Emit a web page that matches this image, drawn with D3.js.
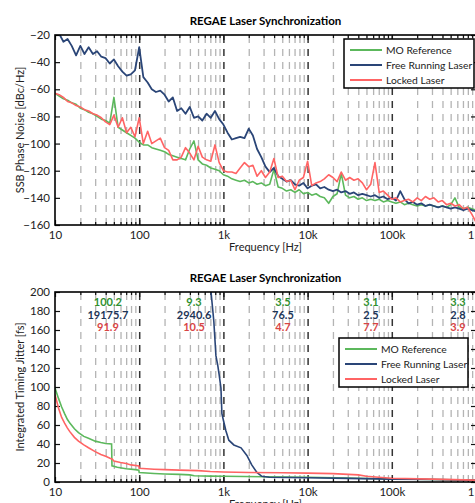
<!DOCTYPE html>
<html>
<head>
<meta charset="utf-8">
<script src="https://cdn.jsdelivr.net/npm/d3@7"></script>
<style>
  body { margin: 0; background: #fff; }
  svg text { font-family: Lato, "Open Sans", sans-serif; fill: #222; }
</style>
</head>
<body>
<div id="chart"></div>
<script>
// frequency grid of the phase noise traces [Hz]
const freqs = [
  10, 11.2, 12.6, 14.1, 15.8, 17.8, 20, 22.4, 25.1, 28.2, 31.6, 35.5, 39.8, 44.7, 50.1, 56.2, 63.1, 70.8, 79.4, 89.1,
  100, 112, 126, 141, 158, 178, 200, 224, 251, 282, 316, 355, 398, 447, 501, 562, 631, 708, 794, 891,
  1000, 1120, 1260, 1410, 1580, 1780, 2000, 2240, 2510, 2820, 3160, 3550, 3980, 4470, 5010, 5620, 6310, 7080, 7940, 8910,
  10000, 11200, 12600, 14100, 15800, 17800, 20000, 22400, 25100, 28200, 31600, 35500, 39800, 44700, 50100, 56200, 63100, 70800, 79400, 89100,
  100000, 112000, 126000, 141000, 158000, 178000, 200000, 224000, 251000, 282000, 316000, 355000, 398000, 447000, 501000, 562000, 631000, 708000, 794000, 891000,
  1000000
];

// SSB phase noise [dBc/Hz]
const moNoise = [
  -63, -65, -67, -68, -70, -71, -74, -75, -77, -78, -80, -82, -83, -85, -66, -88, -90, -92, -94, -96,
  -99, -101, -101, -103, -104, -105, -106, -108, -109, -110, -111, -112, -104, -98, -112, -115, -116, -118, -119, -120,
  -123, -124, -126, -127, -128, -127, -129, -128, -130, -129, -131, -130, -119, -132, -133, -135, -134, -136, -134, -137,
  -136, -138, -137, -139, -140, -144, -139, -137, -122, -138, -140, -139, -141, -140, -142, -141, -142, -141, -143, -142,
  -143, -144, -143, -145, -144, -145, -146, -145, -146, -145, -146, -147, -146, -147, -145, -140, -147, -148, -147, -148,
  -149
];
const freeNoise = [
  -15, -19, -25, -23, -28, -35, -28, -34, -29, -34, -32, -36, -37, -41, -38, -43, -47, -50, -49, -46,
  -29, -51, -55, -60, -62, -61, -64, -69, -66, -76, -74, -78, -73, -81, -80, -83, -78, -81, -76, -82,
  -86, -92, -97, -96, -95, -96, -89, -94, -104, -110, -117, -121, -118, -124, -126, -128, -127, -130, -131, -129,
  -133, -131, -130, -133, -132, -134, -135, -134, -136, -135, -137, -136, -138, -137, -138, -139, -138, -140, -139, -141,
  -140, -142, -135, -141, -144, -143, -145, -144, -146, -145, -146, -147, -146, -147, -148, -147, -148, -149, -148, -149,
  -150
];
const lockedNoise = [
  -63, -64, -66, -69, -70, -72, -73, -75, -76, -78, -79, -81, -84, -86, -79, -88, -81, -92, -88, -95,
  -81, -100, -91, -100, -98, -96, -103, -105, -112, -112, -110, -103, -107, -112, -102, -110, -112, -113, -101, -114,
  -120, -121, -121, -122, -118, -114, -117, -116, -124, -120, -125, -121, -111, -125, -124, -128, -127, -134, -127, -125,
  -113, -131, -129, -128, -126, -123, -125, -128, -121, -127, -125, -127, -126, -129, -134, -130, -114, -136, -135, -138,
  -141, -140, -143, -142, -141, -143, -140, -142, -139, -141, -140, -143, -142, -145, -144, -146, -145, -148, -147, -152,
  -158
];

// integrated timing jitter [fs], pairs of [frequency, jitter]
const moJitter = [
  [10, 99], [11, 88], [12, 79], [13, 72], [14, 66], [15, 62], [17, 56], [19, 52], [22, 48], [25, 46], [30, 43],
  [35, 41.5], [40, 40.5], [47, 40], [47.5, 17], [55, 15.5], [70, 14], [90, 13], [99, 12.5], [100, 10], [150, 9],
  [200, 8.5], [300, 8], [400, 7.5], [450, 6.5], [700, 6.2], [1000, 6], [3000, 5.6], [10000, 5], [30000, 4.2],
  [50000, 3.7], [100000, 3.3], [300000, 2.6], [1000000, 2]
];
const freeJitter = [
  [690, 215], [713, 200], [770, 169], [815, 133], [860, 122], [890, 113], [935, 99], [960, 72], [1000, 65],
  [1070, 54], [1160, 44], [1330, 39], [1620, 36], [1900, 28], [2170, 18], [2500, 10], [2860, 6], [3500, 5],
  [10000, 4.4], [30000, 3.8], [100000, 3], [300000, 2.6], [1000000, 2]
];
const lockedJitter = [
  [10, 92], [11, 78], [12, 68], [13, 62], [14, 57], [15, 53], [17, 47], [19, 43], [22, 39], [25, 36], [30, 32],
  [35, 29], [40, 27], [45, 25], [48, 24], [50, 22], [60, 20.5], [70, 19.5], [80, 18], [99, 17], [100, 14.5],
  [150, 13.5], [200, 13], [300, 12.5], [500, 12], [700, 11], [1000, 10.5], [2000, 10], [5000, 9.8], [10000, 9.3],
  [20000, 8.8], [40000, 7.5], [50000, 6], [70000, 5], [100000, 4], [300000, 3], [1000000, 2]
];

// jitter per decade, written above each decade
const bandFreqs = [42.5, 448, 5100, 56600, 611000];
const moBand = ['100.2', '9.3', '3.5', '3.1', '3.3'];
const freeBand = ['19175.7', '2940.6', '76.5', '2.5', '2.8'];
const lockedBand = ['91.9', '10.5', '4.7', '7.7', '3.9'];

const decades = [10, 100, 1000, 10000, 100000, 1000000];
const decadeLabels = ['10', '100', '1k', '10k', '100k', '1M'];
const seriesNames = ['MO Reference', 'Free Running Laser', 'Locked Laser'];
const lineColors = ['#5cb85c', '#2a4577', '#ff6464'];
const textColors = ['#2f8f2f', '#1d3557', '#d84545'];

const W = 475, H = 503;
const left = 55, right = 476;

const svg = d3.select('#chart').append('svg')
  .attr('width', W)
  .attr('height', H);

const x = d3.scaleLog().domain([10, 1e6]).range([left, right]);

// minor tick values: 2..9 of every decade
const minors = [];
decades.slice(0, -1).forEach((d) => {
  for (let k = 2; k <= 9; k += 1) minors.push(d * k);
});

function drawPanel(opt) {
  const { top, bottom, y, yTicks, title, yLabel, clipId } = opt;
  const g = svg.append('g');

  // dashed vertical grid
  g.append('g')
    .attr('transform', `translate(0,${bottom})`)
    .call(d3.axisBottom(x).tickValues(minors).tickSize(-(bottom - top)).tickFormat(''))
    .call(s => s.select('.domain').remove())
    .call(s => s.selectAll('line').attr('stroke', '#b4b4b4').attr('stroke-width', 1.3).attr('stroke-dasharray', '7,6'));
  g.append('g')
    .attr('transform', `translate(0,${bottom})`)
    .call(d3.axisBottom(x).tickValues(decades.slice(1, -1)).tickSize(-(bottom - top)).tickFormat(''))
    .call(s => s.select('.domain').remove())
    .call(s => s.selectAll('line').attr('stroke', '#333').attr('stroke-width', 1.5).attr('stroke-dasharray', '7,6'));

  // bottom axis with labels, inward ticks
  const xb = g.append('g')
    .attr('transform', `translate(0,${bottom})`)
    .call(d3.axisBottom(x).tickValues(decades).tickFormat((d, i) => decadeLabels[i]).tickSizeInner(-5).tickSizeOuter(0).tickPadding(6));
  xb.select('.domain').remove();
  xb.selectAll('text').attr('font-size', 11.5).attr('fill', '#222');
  g.append('g')
    .attr('transform', `translate(0,${bottom})`)
    .call(d3.axisBottom(x).tickValues(minors).tickSize(-3).tickFormat(''))
    .call(s => s.select('.domain').remove());
  // top axis ticks
  g.append('g')
    .attr('transform', `translate(0,${top})`)
    .call(d3.axisTop(x).tickValues(decades).tickSize(-5).tickFormat(''))
    .call(s => s.select('.domain').remove());
  g.append('g')
    .attr('transform', `translate(0,${top})`)
    .call(d3.axisTop(x).tickValues(minors).tickSize(-3).tickFormat(''))
    .call(s => s.select('.domain').remove());

  // y axes
  const yl = g.append('g')
    .attr('transform', `translate(${left},0)`)
    .call(d3.axisLeft(y).tickValues(yTicks).tickSizeInner(-5).tickSizeOuter(0).tickPadding(5));
  yl.select('.domain').remove();
  yl.selectAll('text').attr('font-size', 11.5).attr('fill', '#222');
  g.append('g')
    .attr('transform', `translate(${right},0)`)
    .call(d3.axisRight(y).tickValues(yTicks).tickSizeInner(-5).tickSizeOuter(0).tickFormat(''))
    .call(s => s.select('.domain').remove());

  g.selectAll('.tick line').filter(function () { return !this.getAttribute('stroke-dasharray'); })
    .attr('stroke', '#111').attr('stroke-width', 1.2);

  svg.append('clipPath').attr('id', clipId)
    .append('rect').attr('x', left).attr('y', top).attr('width', right - left).attr('height', bottom - top);

  // titles
  svg.append('text')
    .attr('x', (left + right) / 2).attr('y', top - 10)
    .attr('text-anchor', 'middle')
    .attr('font-size', 11.5).attr('font-weight', 'bold')
    .style('fill', '#000')
    .text(title);
  svg.append('text')
    .attr('transform', `translate(24,${(top + bottom) / 2}) rotate(-90)`)
    .attr('text-anchor', 'middle')
    .attr('font-size', 11)
    .text(yLabel);
  svg.append('text')
    .attr('x', (left + right) / 2).attr('y', bottom + 26)
    .attr('text-anchor', 'middle')
    .attr('font-size', 11)
    .text('Frequency [Hz]');

  return g;
}

function drawFrame(top, bottom) {
  svg.append('rect')
    .attr('x', left).attr('y', top)
    .attr('width', right - left).attr('height', bottom - top)
    .attr('fill', 'none').attr('stroke', '#000').attr('stroke-width', 1.6);
}

function drawLegend(bx, by, bw, bh) {
  const lg = svg.append('g');
  lg.append('rect')
    .attr('x', bx).attr('y', by).attr('width', bw).attr('height', bh)
    .attr('fill', '#fff').attr('stroke', '#000').attr('stroke-width', 1.5);
  seriesNames.forEach((name, i) => {
    const cy = by + 11 + i * 15;
    lg.append('line')
      .attr('x1', bx + 6).attr('x2', bx + 38)
      .attr('y1', cy).attr('y2', cy)
      .attr('stroke', lineColors[i]).attr('stroke-width', 2);
    lg.append('text')
      .attr('x', bx + 42).attr('y', cy + 4)
      .attr('font-size', 10.3)
      .text(name);
  });
}

// ---------------- top: phase noise ----------------
const yNoise = d3.scaleLinear().domain([-160, -20]).range([225, 35]);
drawPanel({
  top: 35, bottom: 225, y: yNoise,
  yTicks: [-160, -140, -120, -100, -80, -60, -40, -20],
  title: 'REGAE Laser Synchronization',
  yLabel: 'SSB Phase Noise [dBc/Hz]',
  clipId: 'clipTop'
});

const noiseLine = d3.line()
  .x((d, i) => x(freqs[i]))
  .y(d => yNoise(d));

[moNoise, freeNoise, lockedNoise].forEach((s, i) => {
  svg.append('path')
    .datum(s)
    .attr('clip-path', 'url(#clipTop)')
    .attr('fill', 'none')
    .attr('stroke', lineColors[i])
    .attr('stroke-width', i === 1 ? 1.8 : 1.6)
    .attr('stroke-linejoin', 'round')
    .attr('d', noiseLine);
});
drawFrame(35, 225);
drawLegend(344, 39, 130, 49);

// ---------------- bottom: integrated jitter ----------------
const yJit = d3.scaleLinear().domain([0, 200]).range([482, 292]);
drawPanel({
  top: 292, bottom: 482, y: yJit,
  yTicks: [0, 20, 40, 60, 80, 100, 120, 140, 160, 180, 200],
  title: 'REGAE Laser Synchronization',
  yLabel: 'Integrated Timing Jitter [fs]',
  clipId: 'clipBot'
});

const jitLine = d3.line()
  .x(d => x(d[0]))
  .y(d => yJit(d[1]));

[moJitter, freeJitter, lockedJitter].forEach((s, i) => {
  svg.append('path')
    .datum(s)
    .attr('clip-path', 'url(#clipBot)')
    .attr('fill', 'none')
    .attr('stroke', lineColors[i])
    .attr('stroke-width', 1.6)
    .attr('d', jitLine);
});

[moBand, freeBand, lockedBand].forEach((vals, r) => {
  svg.append('g').selectAll('text')
    .data(vals)
    .join('text')
    .attr('x', (d, i) => x(bandFreqs[i]))
    .attr('y', 306 + r * 12.5)
    .attr('text-anchor', 'middle')
    .attr('font-size', 11)
    .attr('font-weight', 'bold')
    .style('fill', textColors[r])
    .text(d => d);
});

drawFrame(292, 482);
drawLegend(339, 338, 129, 49);
</script>
</body>
</html>
